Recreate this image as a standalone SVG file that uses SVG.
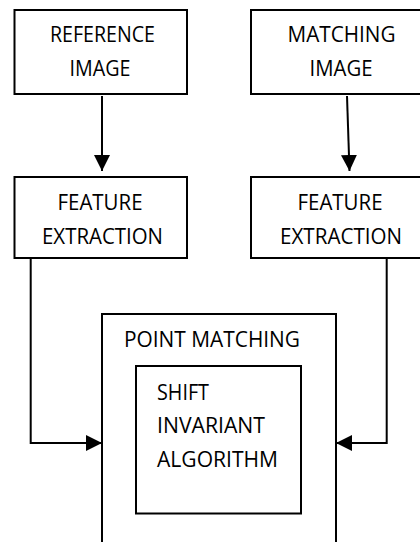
<svg xmlns="http://www.w3.org/2000/svg" width="420" height="542" viewBox="0 0 420 542">
<style>
.box{fill:#fff;stroke:#000;stroke-width:2}
.t{font-family:"Open Sans","Liberation Sans",Arial,sans-serif;font-size:21px;fill:#000}
.c{text-anchor:middle}
.ln{fill:none;stroke:#000;stroke-width:2}
</style>
<defs>
<marker id="ah" markerUnits="userSpaceOnUse" markerWidth="16" markerHeight="16" viewBox="0 0 16 16" refX="16" refY="8" orient="auto">
<path d="M0,0 L16,8 L0,16 Z" fill="#000"/>
</marker>
</defs>
<rect x="0" y="0" width="420" height="542" fill="#fff"/>
<g id="reference-image">
<rect class="box" x="14.5" y="10" width="172.5" height="84"/>
<text class="t c" x="102.5" y="42" textLength="105" lengthAdjust="spacingAndGlyphs">REFERENCE</text>
<text class="t c" x="100" y="76" textLength="61" lengthAdjust="spacingAndGlyphs">IMAGE</text>
</g>
<g id="matching-image">
<rect class="box" x="251" y="10" width="182" height="84"/>
<text class="t c" x="341.5" y="42" textLength="108" lengthAdjust="spacingAndGlyphs">MATCHING</text>
<text class="t c" x="341" y="76" textLength="63" lengthAdjust="spacingAndGlyphs">IMAGE</text>
</g>
<g id="feature-extraction-left">
<rect class="box" x="14.5" y="177" width="172.5" height="81"/>
<text class="t c" x="100" y="210" textLength="85" lengthAdjust="spacingAndGlyphs">FEATURE</text>
<text class="t c" x="102.5" y="244" textLength="121" lengthAdjust="spacingAndGlyphs">EXTRACTION</text>
</g>
<g id="feature-extraction-right">
<rect class="box" x="251" y="177" width="182" height="81"/>
<text class="t c" x="340" y="210" textLength="85" lengthAdjust="spacingAndGlyphs">FEATURE</text>
<text class="t c" x="341" y="244" textLength="122" lengthAdjust="spacingAndGlyphs">EXTRACTION</text>
</g>
<g id="point-matching">
<rect class="box" x="102" y="314" width="234" height="260"/>
<text class="t" x="124" y="347" textLength="176" lengthAdjust="spacingAndGlyphs">POINT MATCHING</text>
</g>
<g id="shift-invariant-algorithm">
<rect class="box" x="136" y="366" width="165" height="147.5"/>
<text class="t" x="157" y="400" textLength="52" lengthAdjust="spacingAndGlyphs">SHIFT</text>
<text class="t" x="157" y="433" textLength="108" lengthAdjust="spacingAndGlyphs">INVARIANT</text>
<text class="t" x="157" y="467" textLength="121" lengthAdjust="spacingAndGlyphs">ALGORITHM</text>
</g>
<g id="connectors">
<line class="ln" x1="102" y1="96" x2="102" y2="171" marker-end="url(#ah)"/>
<line class="ln" x1="347" y1="96" x2="349.5" y2="171" marker-end="url(#ah)"/>
<polyline class="ln" points="30.7,259 30.7,443 102,443" marker-end="url(#ah)"/>
<polyline class="ln" points="386.7,259 386.7,443 336,443" marker-end="url(#ah)"/>
</g>
</svg>
